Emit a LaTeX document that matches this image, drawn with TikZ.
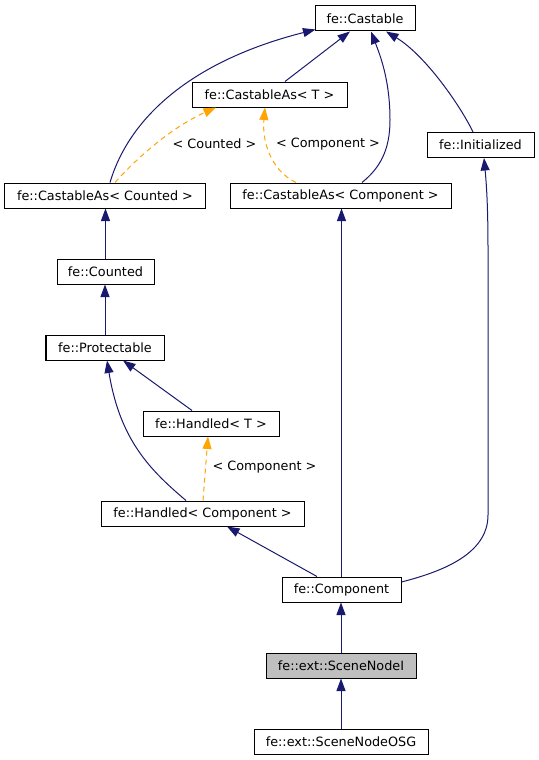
\documentclass[tikz,border=0pt]{standalone}
\usepackage{fontspec}
\setmainfont{DejaVu Sans}
\usetikzlibrary{arrows.meta}
\definecolor{edgeblue}{HTML}{191970}
\definecolor{tmplorange}{HTML}{FFA500}
\definecolor{fillgray}{HTML}{BFBFBF}
\begin{document}
\begin{tikzpicture}[x=1bp,y=-1bp,
  cls/.style={draw=black, line width=1bp, fill=white, minimum height=25bp, inner sep=0pt, font=\fontsize{12.8bp}{15bp}\selectfont},
  inh/.style={draw=edgeblue, line width=1bp, -{Triangle[length=12.5bp,width=9bp]}},
  tmpl/.style={draw=tmplorange, line width=1bp, dash pattern=on 5bp off 4bp, -{Triangle[length=12.5bp,width=9bp]}},
  lbl/.style={inner sep=0pt, font=\fontsize{12.8bp}{15bp}\selectfont}
]
\useasboundingbox (0,0) rectangle (539,760);
\fill[white] (0,0) rectangle (539,760);

\node[cls, minimum width=100bp] (cast) at (365,18.5) {fe::Castable};
\node[cls, minimum width=155bp] (castT) at (269.5,94.5) {fe::CastableAs< T >};
\node[cls, minimum width=107bp] (init) at (480.5,145) {fe::Initialized};
\node[cls, minimum width=200bp] (castCnt) at (105,195.5) {fe::CastableAs< Counted >};
\node[cls, minimum width=221bp] (castComp) at (340.5,195.5) {fe::CastableAs< Component >};
\node[cls, minimum width=97bp] (counted) at (105.5,271.5) {fe::Counted};
\node[cls, minimum width=118bp] (prot) at (105,347.5) {fe::Protectable};
\node[cls, minimum width=136bp] (handT) at (211,423.5) {fe::Handled< T >};
\node[cls, minimum width=203bp] (handComp) at (202.5,513.5) {fe::Handled< Component >};
\node[cls, minimum width=119bp] (comp) at (341.5,589.5) {fe::Component};
\node[cls, minimum width=150bp, fill=fillgray] (sni) at (341,665.5) {fe::ext::SceneNodeI};
\node[cls, minimum width=174bp] (osg) at (341,741.5) {fe::ext::SceneNodeOSG};

\node[lbl] (lcnt) at (214.5,144) {< Counted >};
\node[lbl] (lcompA) at (328,144) {< Component >};
\node[lbl] (lcompB) at (264.5,467) {< Component >};

\draw[inh] ([xshift=15.5bp]castT.north) -- ([xshift=-15bp]cast.south);
\draw[inh] ([xshift=5bp]castCnt.north) .. controls (130,115) and (195,60) .. ([shift={(1bp,2bp)}]cast.south west);
\draw[inh] ([xshift=21.5bp]castComp.north) .. controls (380,168) and (390,150) .. (390,120) .. controls (390,80) and (380,55) .. ([xshift=6bp]cast.south);
\draw[inh] ([xshift=-7.5bp]init.north) .. controls (460,105) and (425,55) .. ([xshift=21bp]cast.south);
\draw[tmpl] ([xshift=10bp]castCnt.north) .. controls (135,160) and (170,128) .. ([xshift=-53.5bp]castT.south);
\draw[tmpl] ([xshift=-44.5bp]castComp.north) .. controls (270,170) and (262,140) .. ([xshift=-4.5bp]castT.south);
\draw[inh] (counted.north) -- (counted.north |- castCnt.south);
\draw[inh] (prot.north) -- (prot.north |- counted.south);
\draw[inh] ([xshift=-19bp]handT.north) -- ([xshift=18bp]prot.south);
\draw[inh] ([xshift=-16.5bp]handComp.north) .. controls (150,470) and (120,440) .. ([xshift=2bp]prot.south);
\draw[tmpl] ([xshift=0.5bp]handComp.north) -- ([xshift=-3bp]handT.south);
\draw[inh] ([xshift=-24.5bp]comp.north) -- ([xshift=24.5bp]handComp.south);
\draw[inh] (comp.north) -- (comp.north |- castComp.south);
\draw[inh] ([yshift=7.5bp]comp.east) .. controls (440,572) and (488,555) .. (488,515) -- (488,250) .. controls (488,200) and (486,180) .. ([xshift=3.5bp]init.south);
\draw[inh] (sni.north) -- (sni.north |- comp.south);
\draw[inh] (osg.north) -- (osg.north |- sni.south);
\end{tikzpicture}
\end{document}
